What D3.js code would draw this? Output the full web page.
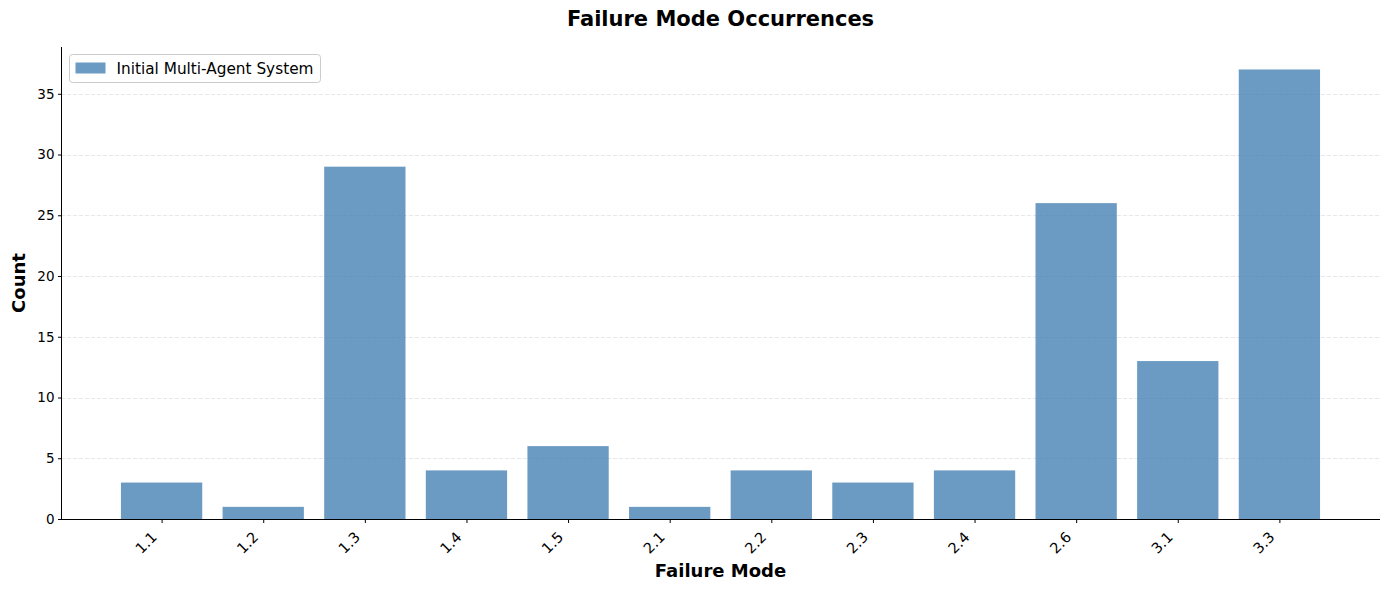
<!DOCTYPE html>
<html>
<head>
<meta charset="utf-8">
<script src="https://cdn.jsdelivr.net/npm/d3@7"></script>
<style>
  body { margin: 0; background: #fff; }
  text { font-family: "DejaVu Sans", sans-serif; fill: #000; }
</style>
</head>
<body>
<div id="chart"></div>
<script>
// data
var modes = ["1.1", "1.2", "1.3", "1.4", "1.5", "2.1", "2.2", "2.3", "2.4", "2.6", "3.1", "3.3"];
var counts = [3, 1, 29, 4, 6, 1, 4, 3, 4, 26, 13, 37];
var yTicks = [0, 5, 10, 15, 20, 25, 30, 35];
var seriesName = "Initial Multi-Agent System";

var WIDTH = 1389,
    HEIGHT = 590,
    MARGINS = {top: 47, right: 9, bottom: 71, left: 61};

var svg = d3.select("#chart").append("svg")
    .attr("width", WIDTH)
    .attr("height", HEIGHT);

// matplotlib-like x limits: bars of width 0.8, 5% margins
var n = modes.length;
var xLin = d3.scaleLinear()
    .domain([-0.4 - 0.05 * (n - 0.2), n - 0.6 + 0.05 * (n - 0.2)])
    .range([MARGINS.left, WIDTH - MARGINS.right]);

var yScale = d3.scaleLinear()
    .domain([0, d3.max(counts) * 1.05])
    .range([HEIGHT - MARGINS.bottom, MARGINS.top]);

// grid
svg.append("g")
    .selectAll("line")
    .data(yTicks.slice(1))
  .enter().append("line")
    .attr("x1", MARGINS.left)
    .attr("x2", WIDTH - MARGINS.right)
    .attr("y1", function(d) { return Math.round(yScale(d)) + 0.5; })
    .attr("y2", function(d) { return Math.round(yScale(d)) + 0.5; })
    .attr("stroke", "#b0b0b0")
    .attr("stroke-opacity", 0.3)
    .attr("stroke-dasharray", "4,2")
    .attr("stroke-width", 1);

// bars
svg.append("g")
    .selectAll("rect")
    .data(counts)
  .enter().append("rect")
    .attr("x", function(d, i) { return xLin(i - 0.4); })
    .attr("width", function(d, i) { return xLin(i + 0.4) - xLin(i - 0.4); })
    .attr("y", function(d) { return yScale(d); })
    .attr("height", function(d) { return yScale(0) - yScale(d); })
    .attr("fill", "steelblue")
    .attr("fill-opacity", 0.8);

// y axis
var yAxis = d3.axisLeft(yScale)
    .tickValues(yTicks)
    .tickSize(3.5)
    .tickPadding(3.5);

var gy = svg.append("g")
    .attr("transform", "translate(" + (MARGINS.left + 0.5) + ",0)")
    .call(yAxis);
gy.select(".domain").attr("d", "M0," + MARGINS.top + "V" + (HEIGHT - MARGINS.bottom));
gy.selectAll("text").style("font-size", "13.5px");

// x axis
var xAxis = d3.axisBottom(xLin)
    .tickValues(d3.range(n))
    .tickFormat(function(i) { return modes[i]; })
    .tickSize(3.5)
    .tickPadding(3.5);

var gx = svg.append("g")
    .attr("transform", "translate(0," + (HEIGHT - MARGINS.bottom + 0.5) + ")")
    .call(xAxis);
gx.select(".domain").attr("d", "M" + MARGINS.left + ",0H" + (WIDTH - MARGINS.right));
gx.selectAll("text")
    .style("font-size", "14.5px")
    .attr("text-anchor", "end")
    .attr("dy", "0.35em")
    .attr("y", 0)
    .attr("transform", "translate(-8,15) rotate(-45)");

svg.selectAll(".domain, .tick line").attr("stroke", "#000");

// title and labels
svg.append("text")
    .attr("x", WIDTH / 2 + 26)
    .attr("y", 26)
    .attr("text-anchor", "middle")
    .style("font-size", "21px")
    .style("font-weight", "bold")
    .text("Failure Mode Occurrences");

svg.append("text")
    .attr("x", WIDTH / 2 + 26)
    .attr("y", 577)
    .attr("text-anchor", "middle")
    .style("font-size", "18px")
    .style("font-weight", "bold")
    .text("Failure Mode");

svg.append("text")
    .attr("transform", "translate(25," + ((MARGINS.top + HEIGHT - MARGINS.bottom) / 2) + ") rotate(-90)")
    .attr("text-anchor", "middle")
    .style("font-size", "18px")
    .style("font-weight", "bold")
    .text("Count");

// legend
var legend = svg.append("g")
    .attr("transform", "translate(69.5,54.5)");
legend.append("rect")
    .attr("width", 251)
    .attr("height", 28)
    .attr("rx", 3)
    .attr("fill", "#fff")
    .attr("fill-opacity", 0.8)
    .attr("stroke", "#cccccc");
legend.append("rect")
    .attr("x", 6)
    .attr("y", 8)
    .attr("width", 30)
    .attr("height", 11)
    .attr("fill", "steelblue")
    .attr("fill-opacity", 0.8);
legend.append("text")
    .attr("x", 47)
    .attr("y", 19)
    .style("font-size", "15.3px")
    .text(seriesName);
</script>
</body>
</html>
